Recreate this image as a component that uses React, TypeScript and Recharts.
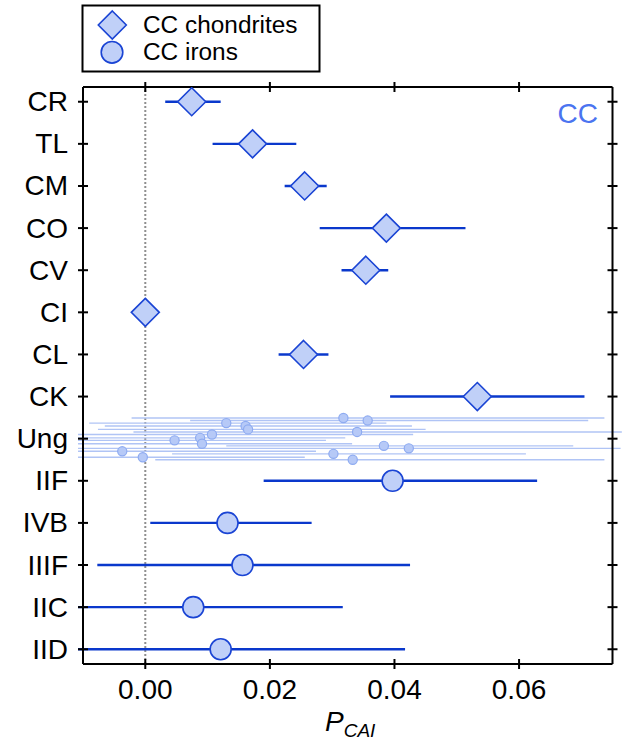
import React from 'react';
import { ScatterChart, Scatter, XAxis, YAxis, ErrorBar, ReferenceLine, Legend } from 'recharts';

const rowLabels = ['CR', 'TL', 'CM', 'CO', 'CV', 'CI', 'CL', 'CK', 'Ung', 'IIF', 'IVB', 'IIIF', 'IIC', 'IID'];
const rowIdx = rowLabels.map((_, i) => i);

const chondriteNames = ['CR', 'TL', 'CM', 'CO', 'CV', 'CI', 'CL', 'CK'];
const chondriteVal = [0.00745, 0.01722, 0.02558, 0.0387, 0.0354, 0.0, 0.0254, 0.0533];
const chondriteLo = [0.0032, 0.0108, 0.02237, 0.028, 0.0315, 0.0, 0.0214, 0.0393];
const chondriteHi = [0.0121, 0.02424, 0.02912, 0.0514, 0.039, 0.0, 0.0294, 0.0705];

const ironNames = ['IIF', 'IVB', 'IIIF', 'IIC', 'IID'];
const ironVal = [0.0397, 0.0132, 0.0156, 0.0077, 0.0121];
const ironLo = [0.019, 0.0008, -0.0077, -0.0108, -0.0108];
const ironHi = [0.0629, 0.0267, 0.0425, 0.0317, 0.0417];

const ungX = [-0.0037, -0.0004, 0.0047, 0.0088, 0.0091, 0.0107, 0.013, 0.0161, 0.0165, 0.0318, 0.0357, 0.034, 0.0383, 0.0423, 0.0302, 0.0333];
const ungY = [8.3, 8.44, 8.04, 7.98, 8.12, 7.9, 7.63, 7.7, 7.78, 7.51, 7.57, 7.84, 8.17, 8.23, 8.36, 8.5];
const ungLo = [-0.0108, -0.0108, -0.0108, -0.0108, -0.0108, -0.0108, -0.009, -0.0065, -0.0076, -0.0022, 0.0072, -0.0019, 0.013, -0.0108, 0.0043, 0.0016];
const ungHi = [0.0274, 0.0256, 0.029, 0.0321, 0.0332, 0.043, 0.0387, 0.0428, 0.045, 0.0737, 0.0711, 0.0765, 0.0687, 0.0763, 0.0611, 0.0737];

const xTicks = [0, 0.02, 0.04, 0.06];
const xTickLabels = ['0.00', '0.02', '0.04', '0.06'];
const xDomain = [-0.01, 0.075];
const yDomain = [-0.35, 13.35];

const FONT = '"Liberation Sans", Arial, Helvetica, sans-serif';
const FILL = '#c0d0f8';
const STROKE = '#1a44d4';
const BAR = '#0a38cc';
const UNG_FILL = '#b6c9f7';
const UNG_STROKE = '#8eabf1';
const UNG_BAR = '#b0c4f5';

const chondriteData = chondriteNames.map((n, i) => ({
  name: n,
  x: chondriteVal[i],
  y: rowLabels.indexOf(n),
  err: [chondriteVal[i] - chondriteLo[i], chondriteHi[i] - chondriteVal[i]],
}));
const ironData = ironNames.map((n, i) => ({
  name: n,
  x: ironVal[i],
  y: rowLabels.indexOf(n),
  err: [ironVal[i] - ironLo[i], ironHi[i] - ironVal[i]],
}));
const ungData = ungX.map((v, i) => ({
  x: v,
  y: ungY[i],
  err: [v - ungLo[i], ungHi[i] - v],
}));

const Diamond = (props: any) => {
  const { cx, cy } = props;
  const h = 14;
  return (
    <polygon
      points={`${cx},${cy - h} ${cx + h},${cy} ${cx},${cy + h} ${cx - h},${cy}`}
      fill={FILL}
      stroke={STROKE}
      strokeWidth={1.6}
    />
  );
};
const BigCircle = (props: any) => (
  <circle cx={props.cx} cy={props.cy} r={10.5} fill={FILL} stroke={STROKE} strokeWidth={1.6} />
);
const SmallCircle = (props: any) => (
  <circle cx={props.cx} cy={props.cy} r={4.6} fill={UNG_FILL} stroke={UNG_STROKE} strokeWidth={1.2} />
);

const BottomTick = (props: any) => {
  const { x, y, index } = props;
  return (
    <g>
      <line x1={x} x2={x} y1={y - 5} y2={y + 5} stroke="#000" strokeWidth={2} />
      <text x={x} y={y + 35} textAnchor="middle" fontSize={28} fontFamily={FONT} fill="#000">
        {xTickLabels[index]}
      </text>
    </g>
  );
};
const TopTick = (props: any) => {
  const { x, y } = props;
  return <line x1={x} x2={x} y1={y - 5} y2={y + 5} stroke="#000" strokeWidth={2} />;
};
const LeftTick = (props: any) => {
  const { x, y, index } = props;
  return (
    <g>
      <line x1={x - 5} x2={x + 5} y1={y} y2={y} stroke="#000" strokeWidth={2} />
      <text x={x - 15} y={y + 9.5} textAnchor="end" fontSize={28} fontFamily={FONT} fill="#000">
        {rowLabels[index]}
      </text>
    </g>
  );
};
const RightTick = (props: any) => {
  const { x, y } = props;
  return <line x1={x - 5} x2={x + 5} y1={y} y2={y} stroke="#000" strokeWidth={2} />;
};

const LegendBox = () => (
  <svg width={242} height={70} style={{ display: 'block' }}>
    <rect x={2.5} y={1.5} width={237} height={66} fill="#fff" stroke="#000" strokeWidth={2} />
    <polygon points="32.3,7 46.3,21 32.3,35 18.3,21" fill={FILL} stroke={STROKE} strokeWidth={1.6} />
    <text x={63} y={28.8} fontSize={24.4} fontFamily={FONT} fill="#000">CC chondrites</text>
    <circle cx={32} cy={48.3} r={10.8} fill={FILL} stroke={STROKE} strokeWidth={1.6} />
    <text x={63} y={56.3} fontSize={24.4} fontFamily={FONT} fill="#000">CC irons</text>
  </svg>
);

const XLabel = () => (
  <text x={325} y={731} fontFamily={FONT} fill="#000" fontStyle="italic">
    <tspan fontSize={28}>P</tspan>
    <tspan fontSize={19} dy={6}>CAI</tspan>
  </text>
);

export default function App() {
  return (
    <div style={{ position: 'absolute', left: 0, top: 0, width: 628, height: 744, background: '#fff' }}>
      <ScatterChart width={628} height={744} margin={{ top: 77, right: 0, bottom: 0, left: 0 }}>
        <XAxis
          xAxisId="b"
          type="number"
          dataKey="x"
          orientation="bottom"
          domain={xDomain}
          allowDataOverflow
          ticks={xTicks}
          interval={0}
          height={80}
          tickSize={0}
          tickMargin={0}
          tickLine={false}
          axisLine={{ stroke: '#000', strokeWidth: 2 }}
          tick={<BottomTick />}
          label={{ content: () => <XLabel /> }}
        />
        <XAxis
          xAxisId="t"
          type="number"
          dataKey="x"
          orientation="top"
          domain={xDomain}
          allowDataOverflow
          ticks={xTicks}
          interval={0}
          height={10}
          tickSize={0}
          tickMargin={0}
          tickLine={false}
          axisLine={{ stroke: '#000', strokeWidth: 2 }}
          tick={<TopTick />}
        />
        <YAxis
          yAxisId="l"
          type="number"
          dataKey="y"
          orientation="left"
          domain={yDomain}
          reversed
          allowDataOverflow
          ticks={rowIdx}
          interval={0}
          width={83}
          tickSize={0}
          tickMargin={0}
          tickLine={false}
          axisLine={{ stroke: '#000', strokeWidth: 2 }}
          tick={<LeftTick />}
        />
        <YAxis
          yAxisId="r"
          type="number"
          dataKey="y"
          orientation="right"
          domain={yDomain}
          reversed
          allowDataOverflow
          ticks={rowIdx}
          interval={0}
          width={15.5}
          tickSize={0}
          tickMargin={0}
          tickLine={false}
          axisLine={{ stroke: '#000', strokeWidth: 2 }}
          tick={<RightTick />}
        />
        <ReferenceLine
          xAxisId="b"
          yAxisId="l"
          x={0}
          stroke="#8f8f8f"
          strokeWidth={2}
          strokeDasharray="2 2"
        />
        <Scatter
          xAxisId="b"
          yAxisId="l"
          data={ungData}
          shape={<SmallCircle />}
          isAnimationActive={false}
        >
          <ErrorBar dataKey="err" direction="x" width={0} stroke={UNG_BAR} strokeWidth={1.4} isAnimationActive={false} />
        </Scatter>
        <Scatter
          xAxisId="b"
          yAxisId="l"
          data={chondriteData}
          shape={<Diamond />}
          isAnimationActive={false}
        >
          <ErrorBar dataKey="err" direction="x" width={0} stroke={BAR} strokeWidth={2.4} isAnimationActive={false} />
        </Scatter>
        <Scatter
          xAxisId="b"
          yAxisId="l"
          data={ironData}
          shape={<BigCircle />}
          isAnimationActive={false}
        >
          <ErrorBar dataKey="err" direction="x" width={0} stroke={BAR} strokeWidth={2.4} isAnimationActive={false} />
        </Scatter>
        <Legend
          layout="vertical"
          align="center"
          verticalAlign="middle"
          wrapperStyle={{ left: 80, top: 4, width: 242, height: 70 }}
          content={() => <LegendBox />}
        />
        <text x={598} y={123} textAnchor="end" fontSize={28} fontFamily={FONT} fill="#4b74f0">
          CC
        </text>
      </ScatterChart>
    </div>
  );
}
